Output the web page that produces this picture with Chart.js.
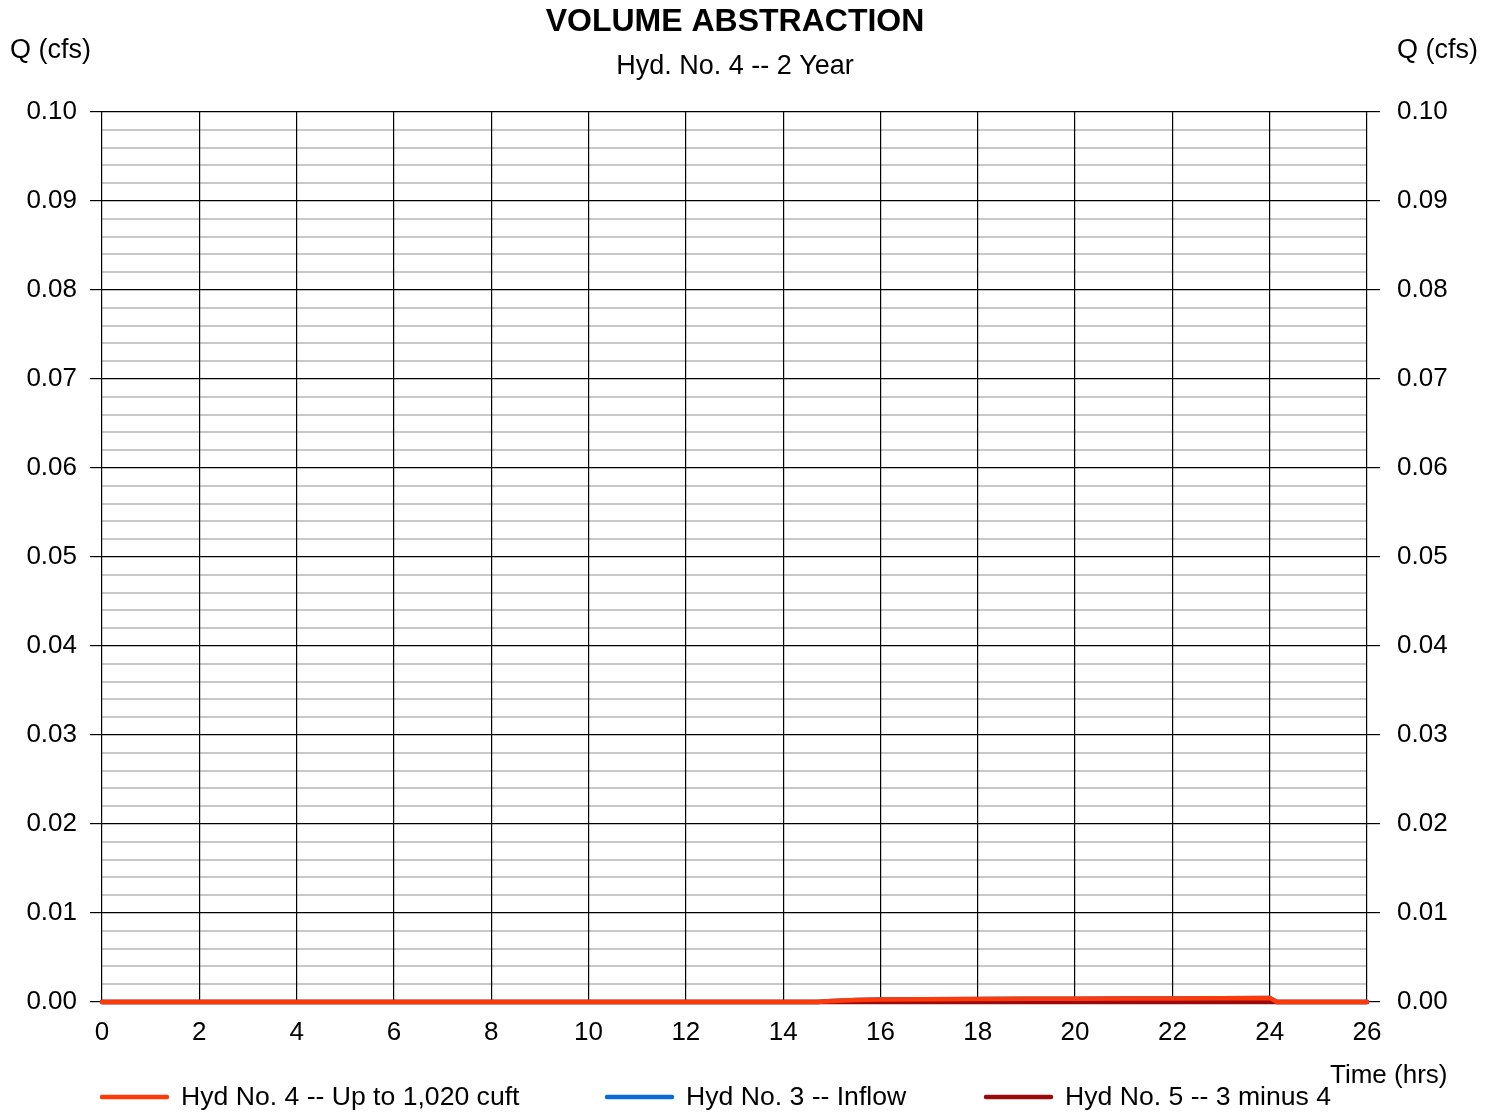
<!DOCTYPE html>
<html>
<head>
<meta charset="utf-8">
<script src="https://cdn.jsdelivr.net/npm/chart.js@4"></script>
<style>
  html, body { margin: 0; padding: 0; background: #fff; }
  #wrap { width: 1494px; height: 1112px; }
</style>
</head>
<body>
<div id="wrap"><canvas id="hydroCanvas" width="1494" height="1112"></canvas></div>
<script>
'use strict'

const timeHrs = [0, 14.7, 15.0, 15.5, 16, 17, 18, 19, 20, 21, 22, 23, 24, 24.15, 26];
const hyd4Abstract = [0, 0, 0.00012, 0.00022, 0.00028, 0.00032, 0.00035, 0.00036, 0.00037, 0.00038, 0.0004, 0.00043, 0.00046, 0, 0];
const hyd3Inflow = [0, 0, 0.00012, 0.00022, 0.00028, 0.00032, 0.00035, 0.00036, 0.00037, 0.00038, 0.0004, 0.00043, 0.00046, 0, 0];
const hyd5Remain = [0, 0, 0, 0, 0, 0, 0, 0, 0, 0, 0, 0, 0, 0, 0];

const xTicks = [0, 26, 2];          // min, max, step
const yTicks = [0, 0.10, 0.002];    // min, max, minor step
const seriesNames = ['Hyd No. 4 -- Up to 1,020 cuft', 'Hyd No. 3 -- Inflow', 'Hyd No. 5 -- 3 minus 4'];
const seriesColors = ['#ff3a0a', '#0a6ad6', '#9a0a0a'];

const FONT = 'Liberation Sans, Arial, sans-serif';

let pts = (ys) => timeHrs.map((t, i) => ({x: t, y: ys[i]}));
let isMajor = (v) => Math.round(v * 1000) % 10 === 0;
let yTickList = (s) => {
  let t = [];
  for (let k = 0; k <= Math.round(yTicks[1] / yTicks[2]); k++) t.push({value: +(k * yTicks[2]).toFixed(3)});
  s.ticks = t;
};

let texts = {
  id: 'texts',
  afterDraw: (chart) => {
    let ctx = chart.ctx;
    ctx.save();
    ctx.fillStyle = '#000';
    ctx.textBaseline = 'middle';
    ctx.textAlign = 'center';
    ctx.font = 'bold 32px ' + FONT;
    ctx.fillText('VOLUME ABSTRACTION', 735, 22);
    ctx.font = '27px ' + FONT;
    ctx.fillText('Hyd. No. 4 -- 2 Year', 735, 67);
    ctx.textAlign = 'left';
    ctx.fillText('Q (cfs)', 10, 51);
    ctx.fillText('Q (cfs)', 1397, 51);
    ctx.font = '26px ' + FONT;
    ctx.fillText('Time (hrs)', 1330, 1076);

    // legend
    ctx.font = '26.6px ' + FONT;
    let legendX = [102, 607, 986];
    for (let i = 0; i < seriesNames.length; i++) {
      let ds = chart.data.datasets.find(d => d.label === seriesNames[i]);
      ctx.strokeStyle = ds.borderColor;
      ctx.lineWidth = 4.5;
      ctx.lineCap = 'round';
      ctx.beginPath();
      ctx.moveTo(legendX[i], 1097);
      ctx.lineTo(legendX[i] + 65, 1097);
      ctx.stroke();
      ctx.fillText(seriesNames[i], legendX[i] + 79, 1098);
    }
    ctx.restore();
  }
};

let myChart = new Chart(document.getElementById('hydroCanvas'), {
  type: 'line',
  data: {
    datasets: [
      { label: seriesNames[1], data: pts(hyd3Inflow), borderColor: seriesColors[1], order: 3 },
      { label: seriesNames[2], data: pts(hyd5Remain), borderColor: seriesColors[2], order: 2 },
      { label: seriesNames[0], data: pts(hyd4Abstract), borderColor: seriesColors[0], order: 1 }
    ]
  },
  options: {
    responsive: false,
    animation: false,
    layout: { padding: { top: 112, left: 0, right: 0, bottom: 0 } },
    elements: {
      point: { radius: 0 },
      line: { borderWidth: 4.5, tension: 0, borderCapStyle: 'round', borderJoinStyle: 'round' }
    },
    datasets: { line: { clip: 6 } },
    plugins: {
      legend: { display: false },
      title: { display: false },
      tooltip: { enabled: false }
    },
    scales: {
      x: {
        type: 'linear',
        min: xTicks[0], max: xTicks[1],
        ticks: { stepSize: xTicks[2], color: '#000', font: { family: FONT, size: 26 }, padding: 15, maxRotation: 0 },
        grid: { color: '#000', lineWidth: 1.2, drawTicks: false, z: 0 },
        border: { display: false },
        afterFit: (s) => { s.height = 110; }
      },
      y: {
        position: 'left',
        min: yTicks[0], max: yTicks[1],
        afterBuildTicks: yTickList,
        ticks: {
          autoSkip: false, color: '#000', font: { family: FONT, size: 26 }, padding: 13,
          callback: (v) => isMajor(v) ? v.toFixed(2) : ''
        },
        grid: {
          color: (c) => c.tick && isMajor(c.tick.value) ? '#000' : '#c8c8c8',
          lineWidth: (c) => c.tick && isMajor(c.tick.value) ? 1.2 : 2,
          tickColor: (c) => c.tick && isMajor(c.tick.value) ? '#000' : 'rgba(0,0,0,0)',
          tickLength: 12
        },
        border: { display: false },
        afterFit: (s) => { s.width = 102; }
      },
      y2: {
        position: 'right',
        min: yTicks[0], max: yTicks[1],
        afterBuildTicks: yTickList,
        ticks: {
          autoSkip: false, color: '#000', font: { family: FONT, size: 26 }, padding: 17,
          callback: (v) => isMajor(v) ? v.toFixed(2) : ''
        },
        grid: {
          drawOnChartArea: false,
          tickColor: (c) => c.tick && isMajor(c.tick.value) ? '#000' : 'rgba(0,0,0,0)',
          lineWidth: 1.2,
          tickLength: 13
        },
        border: { display: false },
        afterFit: (s) => { s.width = 127; }
      }
    }
  },
  plugins: [texts]
});
</script>
</body>
</html>
